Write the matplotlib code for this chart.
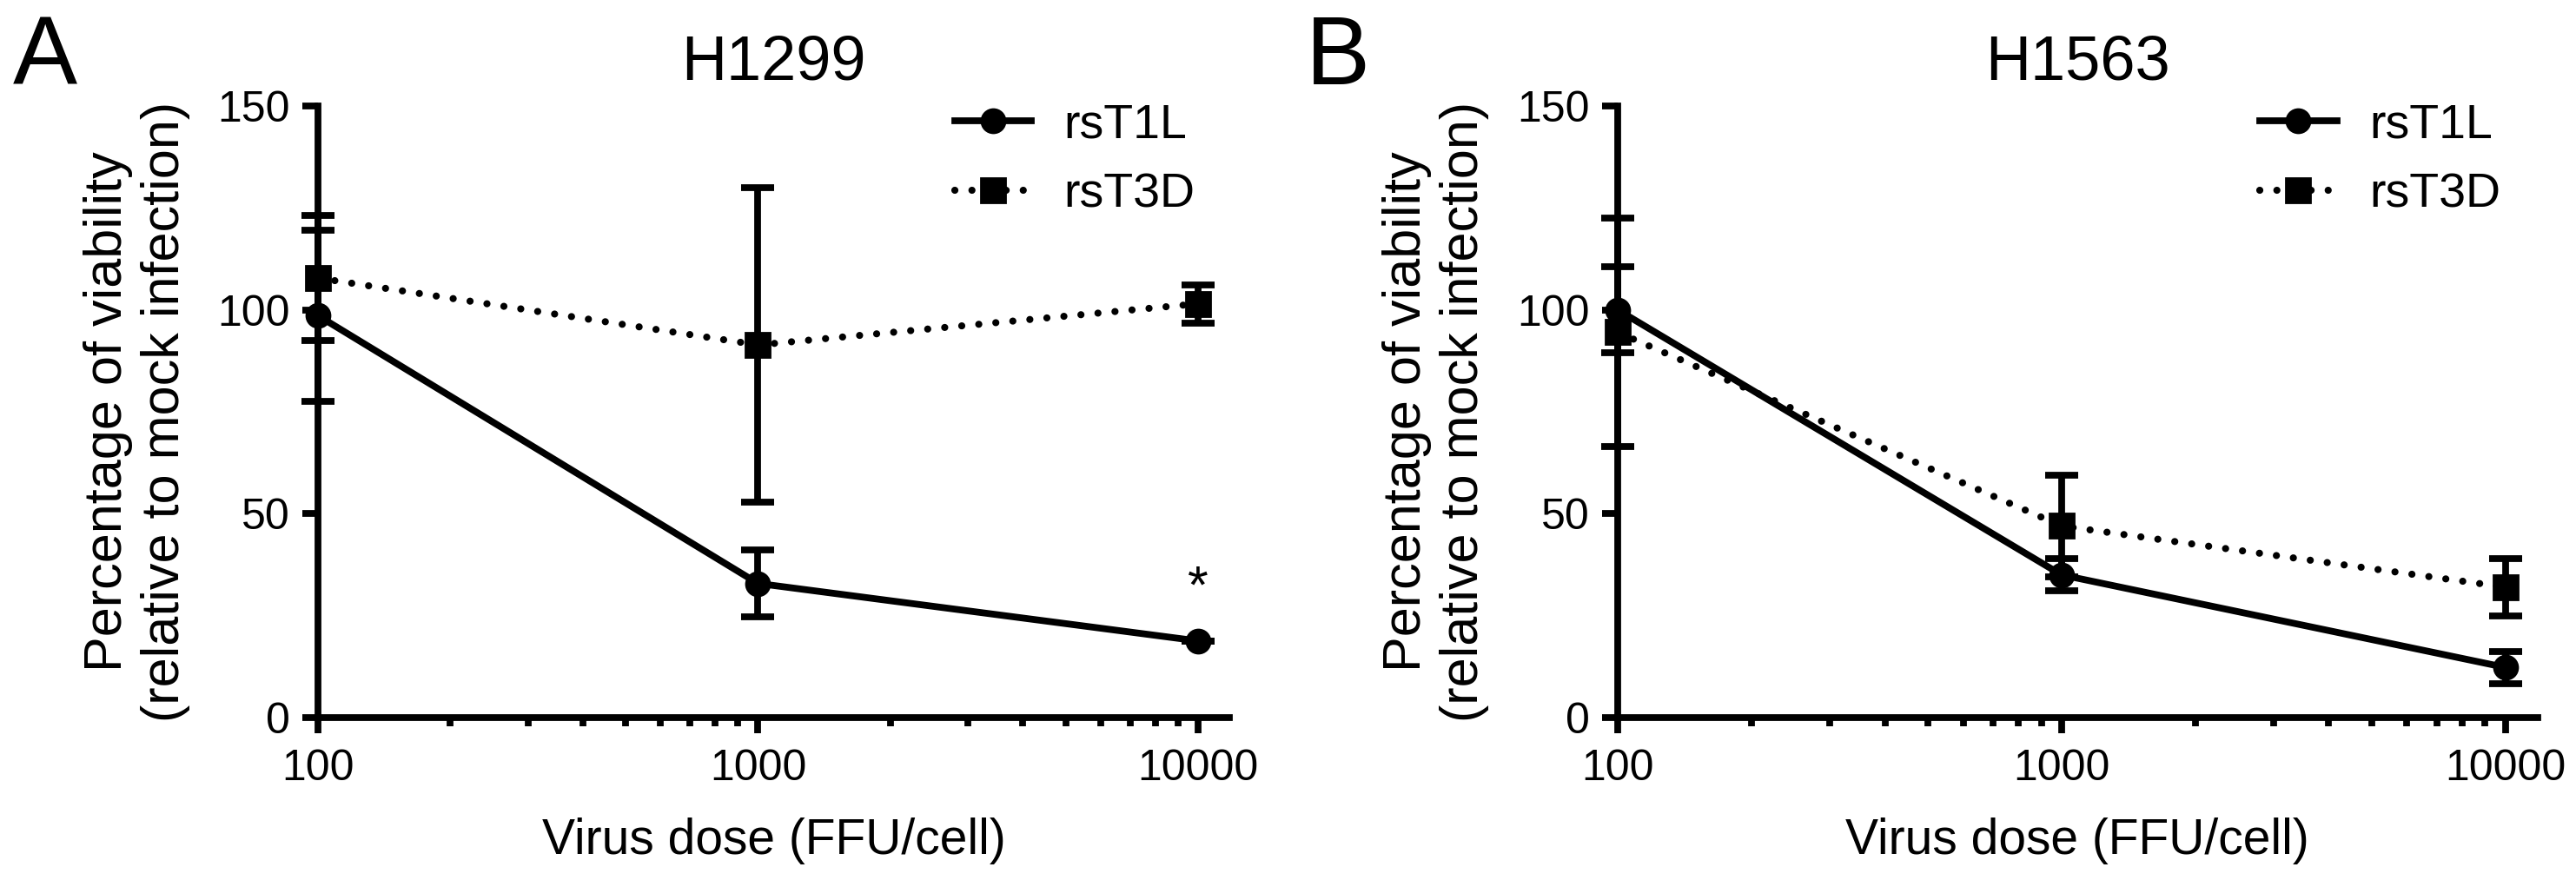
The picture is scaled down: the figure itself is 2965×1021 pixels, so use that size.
import matplotlib
matplotlib.use("Agg")
import matplotlib.pyplot as plt

plt.rcParams["font.family"] = ["Liberation Sans", "DejaVu Sans"]

# virus dose (FFU/cell)
DOSES = [100, 1000, 10000]

# H1299
H1299_T1L = [98.6, 32.9, 18.8]
H1299_T1L_ERR = [21.0, 8.2, 0.0]
H1299_T3D = [107.8, 91.4, 101.5]
H1299_T3D_ERR = [15.4, 38.5, 4.7]

# H1563
H1563_T1L = [100.0, 35.0, 12.3]
H1563_T1L_ERR = [10.6, 4.0, 3.9]
H1563_T3D = [94.5, 47.0, 32.0]
H1563_T3D_ERR = [28.0, 12.5, 7.0]

TITLES = ["H1299", "H1563"]
PANELS = ["A", "B"]
Y_TICKS = [0, 50, 100, 150]
X_TICKS = [100, 1000, 10000]
X_TICK_LABELS = ["100", "1000", "10000"]

LW = 2.8


def draw_panel(ax, t1l, t1l_err, t3d, t3d_err, title):
    # error bars first, then the lines with markers (these go in the legend)
    ax.errorbar(DOSES, t1l, yerr=t1l_err, fmt="none", ecolor="black",
                elinewidth=LW, capsize=6.7, capthick=LW, clip_on=False, zorder=3)
    ax.errorbar(DOSES, t3d, yerr=t3d_err, fmt="none", ecolor="black",
                elinewidth=LW, capsize=6.7, capthick=LW, clip_on=False, zorder=3)

    ax.plot(DOSES, t1l, color="black", lw=LW, marker="o", markersize=9.7,
            label="rsT1L", clip_on=False, zorder=4)
    ax.plot(DOSES, t3d, color="black", lw=LW * 1.05, marker="s", markersize=10,
            linestyle=(0, (0.01, 2.4)), dash_capstyle="round",
            label="rsT3D", clip_on=False, zorder=4)

    ax.set_xscale("log")
    ax.set_xlim(100, 11800)
    ax.set_ylim(0, 150)
    ax.set_xticks(X_TICKS)
    ax.set_xticklabels(X_TICK_LABELS)
    ax.set_yticks(Y_TICKS)

    for side in ["top", "right"]:
        ax.spines[side].set_visible(False)
    for side in ["left", "bottom"]:
        ax.spines[side].set_linewidth(LW)

    ax.tick_params(which="major", length=6.5, width=LW, labelsize=18, pad=5)
    ax.tick_params(which="minor", length=3.6, width=LW)
    ax.tick_params(axis="x", which="major", pad=6.5)

    ax.set_title(title, fontsize=26, pad=11)
    ax.set_xlabel("Virus dose (FFU/cell)", fontsize=20.5, labelpad=12)
    ax.set_ylabel("Percentage of viability\n(relative to mock infection)",
                  fontsize=22, linespacing=1.2)
    ax.yaxis.set_label_coords(-0.14, 0.5)

    ax.legend(loc="upper left", bbox_to_anchor=(0.698, 1.005), frameon=False,
              fontsize=20, numpoints=1, handlelength=1.6, handletextpad=0.67,
              labelspacing=0.5, borderpad=0, borderaxespad=0)


fig = plt.figure(figsize=(14.825, 5.105), dpi=200)
ax1 = fig.add_axes([0.1234, 0.191, 0.354, 0.6895])
ax2 = fig.add_axes([0.628, 0.191, 0.357, 0.6895])

draw_panel(ax1, H1299_T1L, H1299_T1L_ERR, H1299_T3D, H1299_T3D_ERR, TITLES[0])
draw_panel(ax2, H1563_T1L, H1563_T1L_ERR, H1563_T3D, H1563_T3D_ERR, TITLES[1])

# significance mark on H1299 at the highest dose
ax1.text(DOSES[2], 31.5, "*", fontsize=22, ha="center", va="center")

fig.text(0.005, 0.905, PANELS[0], fontsize=40, va="baseline", ha="left")
fig.text(0.507, 0.905, PANELS[1], fontsize=40, va="baseline", ha="left")

fig.savefig("out.png", dpi=200)
